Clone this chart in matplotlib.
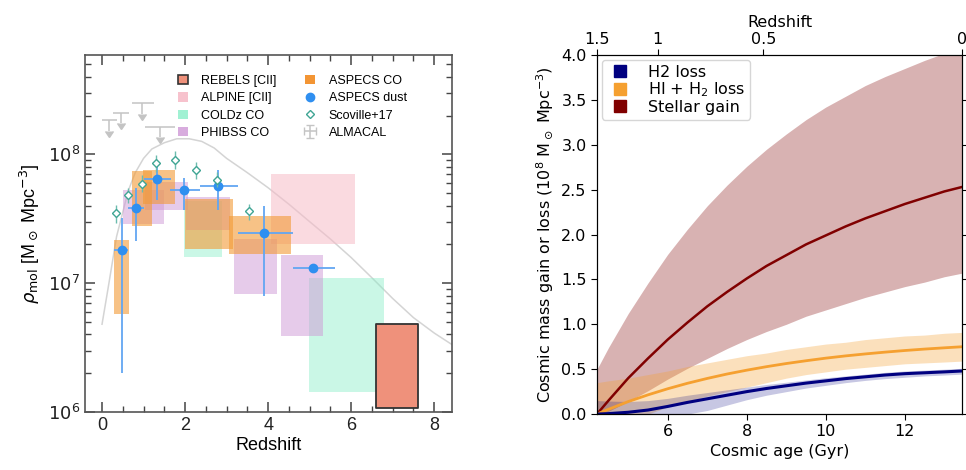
#!/usr/bin/env python3
"""Molecular gas density vs redshift (left) and cosmic mass budget vs age (right)."""

import matplotlib
matplotlib.use('Agg')
import matplotlib.pyplot as plt
from matplotlib.lines import Line2D
from matplotlib.patches import Patch
from matplotlib.ticker import MultipleLocator, FormatStrFormatter
import numpy as np

### Left panel data (redshift, rho_mol in Msun/Mpc^3)

REBELS_Z = [6.59, 7.62]
REBELS_RHO = [1.08e6, 4.8e6]

ALPINE_Z = [4.07, 6.10]
ALPINE_RHO = [2.0e7, 7.0e7]

COLDZ_Z = [[1.98, 2.90], [4.99, 6.80]]
COLDZ_RHO = [[1.61e7, 4.36e7], [1.43e6, 1.09e7]]

PHIBSS_Z = [[0.50, 1.50], [1.04, 2.06], [2.02, 3.07], [3.19, 4.21], [4.31, 5.33]]
PHIBSS_RHO = [[2.9e7, 5.3e7], [3.7e7, 6.1e7], [2.6e7, 4.7e7], [8.2e6, 2.19e7], [3.9e6, 1.66e7]]

ASPECS_CO_Z = [[0.30, 0.65], [0.72, 1.20], [0.98, 1.76], [2.00, 3.15], [3.06, 4.55]]
ASPECS_CO_RHO = [[5.8e6, 2.16e7], [2.8e7, 7.4e7], [4.1e7, 7.6e7], [1.83e7, 4.5e7], [1.69e7, 3.3e7]]

DUST_Z = [0.49, 0.82, 1.32, 1.98, 2.80, 3.91, 5.07]
DUST_ZLO = [0.30, 0.62, 1.02, 1.64, 2.35, 3.27, 4.59]
DUST_ZHI = [0.63, 1.02, 1.66, 2.35, 3.27, 4.59, 5.60]
DUST_RHO = [1.81e7, 3.85e7, 6.4e7, 5.3e7, 5.66e7, 2.44e7, 1.31e7]
DUST_RHOLO = [2.0e6, 2.11e7, 4.44e7, 3.72e7, 3.72e7, 7.9e6, 1.31e7]
DUST_RHOHI = [3.2e7, 5.46e7, 8.28e7, 6.5e7, 7.57e7, 4.0e7, 1.31e7]

SCOVILLE_Z = [0.34, 0.63, 0.96, 1.30, 1.76, 2.27, 2.78, 3.55]
SCOVILLE_RHO = [3.5e7, 4.8e7, 5.9e7, 8.5e7, 9.1e7, 7.5e7, 6.3e7, 3.6e7]
SCOVILLE_RHOLO = [2.91e7, 4.16e7, 5.12e7, 7.3e7, 7.74e7, 6.49e7, 5.58e7, 3.09e7]
SCOVILLE_RHOHI = [4.04e7, 5.43e7, 6.89e7, 9.8e7, 1.07e8, 8.73e7, 7.3e7, 4.1e7]

ALMACAL_Z = [0.17, 0.46, 0.96, 1.40]
ALMACAL_ZLO = [-0.01, 0.27, 0.71, 1.04]
ALMACAL_ZHI = [0.35, 0.64, 1.24, 1.76]
ALMACAL_RHO = [1.83e8, 2.1e8, 2.5e8, 1.63e8]
ALMACAL_TIP = [1.51e8, 1.75e8, 2.06e8, 1.36e8]

CURVE_Z = [0.0, 0.15, 0.35, 0.63, 0.8, 1.0, 1.2, 1.5, 1.8, 2.1, 2.4, 2.7, 3.0,
           3.5, 4.0, 4.5, 5.0, 5.5, 6.0, 6.5, 7.0, 7.5, 8.0, 8.45]
CURVE_RHO = [4.8e6, 9.3e6, 2.3e7, 5.2e7, 7.2e7, 9.3e7, 1.10e8, 1.23e8, 1.32e8,
             1.32e8, 1.26e8, 1.12e8, 9.3e7, 7.2e7, 5.5e7, 4.1e7, 3.0e7, 2.2e7,
             1.58e7, 1.10e7, 7.6e6, 5.4e6, 4.1e6, 3.3e6]

### Right panel data (cosmic age in Gyr, 1e8 Msun/Mpc^3)

AGE = [4.21, 4.5, 5.0, 5.5, 6.0, 6.5, 7.0, 7.5, 8.0, 8.5, 9.0, 9.5, 10.0, 10.5,
       11.0, 11.5, 12.0, 12.5, 13.0, 13.45]

STELLAR_MID = [0, 0.15, 0.40, 0.62, 0.83, 1.02, 1.20, 1.36, 1.51, 1.65, 1.77,
               1.89, 1.99, 2.09, 2.18, 2.26, 2.34, 2.41, 2.48, 2.53]
STELLAR_HI = [0.50, 0.74, 1.12, 1.46, 1.78, 2.06, 2.32, 2.55, 2.76, 2.95, 3.12,
              3.28, 3.42, 3.54, 3.66, 3.76, 3.85, 3.94, 4.02, 4.08]
STELLAR_LO = [0, 0.03, 0.14, 0.26, 0.39, 0.51, 0.62, 0.73, 0.83, 0.92, 1.00,
              1.09, 1.16, 1.23, 1.30, 1.36, 1.42, 1.47, 1.53, 1.57]

HIH2_MID = [0, 0.053, 0.139, 0.214, 0.282, 0.343, 0.397, 0.446, 0.489, 0.528,
            0.563, 0.594, 0.623, 0.648, 0.670, 0.690, 0.708, 0.724, 0.738, 0.750]
HIH2_HI = [0.35, 0.37, 0.40, 0.44, 0.48, 0.53, 0.57, 0.61, 0.65, 0.68, 0.72,
           0.75, 0.78, 0.80, 0.83, 0.85, 0.87, 0.88, 0.90, 0.91]
HIH2_LO = [0, 0, 0, 0, 0.08, 0.14, 0.20, 0.25, 0.30, 0.35, 0.40, 0.44, 0.47,
           0.50, 0.52, 0.54, 0.56, 0.57, 0.58, 0.59]

H2_MID = [0, 0.005, 0.02, 0.045, 0.085, 0.13, 0.17, 0.21, 0.25, 0.285, 0.315,
          0.345, 0.37, 0.395, 0.415, 0.435, 0.45, 0.46, 0.47, 0.48]
H2_HI = [0.15, 0.145, 0.14, 0.15, 0.175, 0.21, 0.24, 0.27, 0.30, 0.33, 0.355,
         0.38, 0.405, 0.425, 0.445, 0.465, 0.48, 0.49, 0.50, 0.51]
H2_LO = [0, 0, 0, 0, 0, 0, 0.04, 0.10, 0.16, 0.21, 0.25, 0.29, 0.32, 0.35,
         0.375, 0.395, 0.41, 0.425, 0.435, 0.445]

# Top axis: redshift labels at the matching cosmic age
TOP_Z_LABELS = ['1.5', '1', '0.5', '0']
TOP_Z_AGE = [4.21, 5.75, 8.42, 13.45]

### Styling

SANS = 'Liberation Sans'
C_REBELS = '#ef917b'
C_ALPINE = '#f7bcc8'
C_COLDZ = '#8aeec8'
C_PHIBSS = '#cf98d6'
C_ASPECS = '#f39a35'
C_DUST = '#2f8ff0'
C_SCOV = '#3fa594'
C_GREY = '#c4c4c4'


def draw_boxes(ax, zs, rhos, color, alpha):
    for (z0, z1), (r0, r1) in zip(zs, rhos):
        ax.fill_between([z0, z1], r0, r1, color=color, alpha=alpha, lw=0)


def plot_left(ax):
    ax.plot(CURVE_Z, CURVE_RHO, color='#d4d4d4', lw=1.1, zorder=1)

    draw_boxes(ax, [ALPINE_Z], [ALPINE_RHO], C_ALPINE, 0.55)
    draw_boxes(ax, COLDZ_Z, COLDZ_RHO, C_COLDZ, 0.45)
    draw_boxes(ax, PHIBSS_Z, PHIBSS_RHO, C_PHIBSS, 0.5)
    draw_boxes(ax, ASPECS_CO_Z, ASPECS_CO_RHO, C_ASPECS, 0.6)
    ax.fill_between(REBELS_Z, REBELS_RHO[0], REBELS_RHO[1], facecolor=C_REBELS,
                    edgecolor='#333333', lw=1.3, zorder=3)

    # upper limits: horizontal bin bar plus short downward arrow
    z = np.array(ALMACAL_Z)
    rho = np.array(ALMACAL_RHO)
    alm = ax.errorbar(z, rho,
                      xerr=[z - np.array(ALMACAL_ZLO), np.array(ALMACAL_ZHI) - z],
                      yerr=[rho - np.array(ALMACAL_TIP), np.zeros_like(rho)],
                      uplims=True, fmt='none', color=C_GREY, ecolor=C_GREY,
                      elinewidth=1.1, capsize=0, markersize=3.5)

    z = np.array(DUST_Z)
    rho = np.array(DUST_RHO)
    ax.errorbar(z, rho,
                xerr=[z - np.array(DUST_ZLO), np.array(DUST_ZHI) - z],
                yerr=[rho - np.array(DUST_RHOLO), np.array(DUST_RHOHI) - rho],
                fmt='o', color=C_DUST, ms=6, ecolor='#62a6f2', elinewidth=1.3,
                capsize=0, zorder=5)

    rho = np.array(SCOVILLE_RHO)
    ax.errorbar(SCOVILLE_Z, rho,
                yerr=[rho - np.array(SCOVILLE_RHOLO), np.array(SCOVILLE_RHOHI) - rho],
                fmt='D', mfc='white', mec=C_SCOV, mew=1.0, ms=4.5, ecolor='#6cbcae',
                elinewidth=1.0, capsize=0, zorder=6)

    ax.set_yscale('log')
    ax.set_xlim(-0.41, 8.43)
    ax.set_ylim(1e6, 5.9e8)
    ax.set_xticks([0, 2, 4, 6, 8])
    ax.xaxis.set_minor_locator(MultipleLocator(0.5))
    ax.tick_params(which='both', direction='in', top=True, right=True,
                   colors='#444444', labelcolor='#222222', labelsize=13)
    ax.tick_params(which='major', length=7, width=1.1)
    ax.tick_params(which='minor', length=4, width=1.0)
    for lab in ax.get_xticklabels():
        lab.set_family(SANS)
    for sp in ax.spines.values():
        sp.set_color('#555555')
        sp.set_linewidth(1.2)

    ax.set_xlabel('Redshift', fontsize=13, family=SANS, labelpad=2)
    ax.set_ylabel(r'$\rho_{\rm mol}$ [M$_\odot$ Mpc$^{-3}$]', fontsize=13,
                  family=SANS, labelpad=4)

    handles = [
        Patch(facecolor=C_REBELS, edgecolor='#333333', lw=1.2),
        Patch(facecolor=C_ALPINE, alpha=0.9, lw=0),
        Patch(facecolor=C_COLDZ, alpha=0.8, lw=0),
        Patch(facecolor=C_PHIBSS, alpha=0.8, lw=0),
        Patch(facecolor='#f28a1e', alpha=0.9, lw=0),
        Line2D([], [], ls='none', marker='o', color=C_DUST, ms=6),
        Line2D([], [], ls='none', marker='D', mfc='white', mec=C_SCOV, ms=4.5),
        alm,
    ]
    labels = ['REBELS [CII]', 'ALPINE [CII]', 'COLDz CO', 'PHIBSS CO',
              'ASPECS CO', 'ASPECS dust', 'Scoville+17', 'ALMACAL']
    ax.legend(handles, labels, ncol=2, frameon=False, loc='upper left',
              bbox_to_anchor=(0.23, 0.968), prop={'family': SANS, 'size': 9},
              handlelength=0.75, handleheight=0.75, handletextpad=1.1,
              labelspacing=0.42, columnspacing=2.3, borderpad=0.2)


def plot_right(ax):
    ax.fill_between(AGE, STELLAR_LO, STELLAR_HI, color='maroon', alpha=0.3, lw=0)
    ax.fill_between(AGE, HIH2_LO, HIH2_HI, color='#f5a030', alpha=0.32, lw=0)
    ax.fill_between(AGE, H2_LO, H2_HI, color='navy', alpha=0.22, lw=0)
    ax.plot(AGE, STELLAR_MID, color='maroon', lw=1.8)
    ax.plot(AGE, HIH2_MID, color='#f5a030', lw=2.0)
    ax.plot(AGE, H2_MID, color='navy', lw=2.2)

    ax.set_xlim(AGE[0], AGE[-1])
    ax.set_ylim(0, 4.0)
    ax.set_xticks([6, 8, 10, 12])
    ax.set_yticks(np.arange(0, 4.01, 0.5))
    ax.yaxis.set_major_formatter(FormatStrFormatter('%.1f'))
    ax.tick_params(labelsize=11.5, right=True, length=4)
    ax.set_xlabel('Cosmic age (Gyr)', fontsize=11.5, labelpad=3)
    ax.set_ylabel(r'Cosmic mass gain or loss (10$^8$ M$_\odot$ Mpc$^{-3}$)',
                  fontsize=11.5, labelpad=4)

    top = ax.twiny()
    top.set_xlim(ax.get_xlim())
    top.set_xticks(TOP_Z_AGE)
    top.set_xticklabels(TOP_Z_LABELS)
    top.tick_params(labelsize=11.5, length=4, pad=2)
    top.set_xlabel('Redshift', fontsize=11.5, labelpad=3)

    handles = [Line2D([], [], ls='none', marker='s', color=c, ms=9)
               for c in ['navy', '#f5a030', 'maroon']]
    labels = ['H2 loss', r'HI + H$_2$ loss', 'Stellar gain']
    ax.legend(handles, labels, loc='upper left', fontsize=11.5,
              handlelength=1.7, handletextpad=0.9, labelspacing=0.05,
              borderpad=0.3, borderaxespad=0.3)


def main():
    fig = plt.figure(figsize=(9.66, 4.7), dpi=100)
    ax_left = fig.add_axes([0.088, 0.1234, 0.380, 0.7596])
    ax_right = fig.add_axes([0.618, 0.119, 0.378, 0.764])
    plot_left(ax_left)
    plot_right(ax_right)
    fig.savefig('out.png', dpi=100)


if __name__ == '__main__':
    main()
